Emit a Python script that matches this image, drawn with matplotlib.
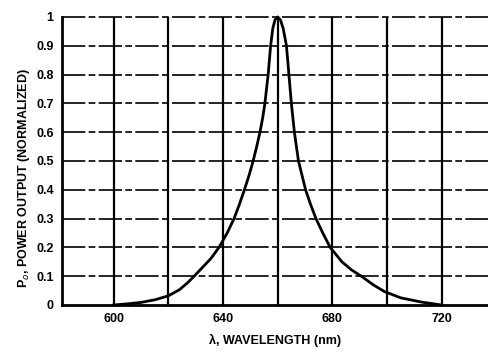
import matplotlib
matplotlib.use("Agg")
import matplotlib.pyplot as plt

# values
wavelength = [600, 605, 610, 615, 620, 624, 627, 629.4, 632, 635.5, 638.5, 641.5,
              644, 646, 647.8, 649.5, 651, 652.3, 653.5, 654.5, 655.3, 656.5,
              657.4, 658.2, 659, 660, 661, 662, 663.2, 664.1, 665, 666.1, 667.6,
              670.2, 672, 674, 676.5, 679.2, 683.5, 687, 690.6, 695, 699, 705,
              712.7, 720]
power = [0.0, 0.004, 0.009, 0.018, 0.032, 0.053, 0.077, 0.1, 0.126, 0.161, 0.2, 0.25,
         0.3, 0.35, 0.4, 0.45, 0.5, 0.55, 0.6, 0.65, 0.7, 0.8,
         0.9, 0.96, 0.99, 1.0, 0.99, 0.96, 0.9, 0.8, 0.7, 0.6, 0.5,
         0.4, 0.35, 0.3, 0.25, 0.2, 0.15, 0.122, 0.1, 0.07, 0.047, 0.025,
         0.01, 0.0]

x_labeled = [600, 640, 680, 720]
x_minor = [620, 660, 700]
y_ticks = [0, 0.1, 0.2, 0.3, 0.4, 0.5, 0.6, 0.7, 0.8, 0.9, 1.0]
y_labels = ["0", "0.1", "0.2", "0.3", "0.4", "0.5", "0.6", "0.7", "0.8", "0.9", "1"]

fam = ["Liberation Sans Narrow", "Liberation Sans", "DejaVu Sans"]

fig = plt.figure(figsize=(4.88, 3.53), dpi=100)
ax = fig.add_axes([0.127, 0.136, 0.873, 0.816])

ax.set_xlim(581, 737)
ax.set_ylim(0, 1.0)

# vertical grid solid, horizontal grid broken dashes like the scan
for xv in x_labeled + x_minor:
    ax.axvline(xv, color="black", lw=1.6, zorder=1)
for yv in y_ticks[1:]:
    ax.axhline(yv, color="black", lw=1.2, ls=(0, (14, 2, 4, 2)), zorder=1,
               clip_on=False)

ax.plot(wavelength, power, color="black", lw=2.0, zorder=3, clip_on=False,
        solid_joinstyle="round")

ax.set_xticks(x_labeled)
ax.set_xticklabels([str(v) for v in x_labeled], family=fam, fontsize=9,
                   fontweight="bold")
ax.set_yticks(y_ticks)
ax.set_yticklabels(y_labels, family=fam, fontsize=9, fontweight="bold")
ax.tick_params(length=0, pad=6)

for s in ["top", "right"]:
    ax.spines[s].set_visible(False)
for s in ["left", "bottom"]:
    ax.spines[s].set_linewidth(2.0)

ax.set_xlabel("λ, WAVELENGTH (nm)", family=fam, fontsize=9, fontweight="bold")
ax.xaxis.set_label_coords(0.5, -0.10)
ax.set_ylabel("P$_o$, POWER OUTPUT (NORMALIZED)", family=fam, fontsize=9,
              fontweight="bold")
ax.yaxis.set_label_coords(-0.07, 0.44)

fig.savefig("out.png", dpi=100)
